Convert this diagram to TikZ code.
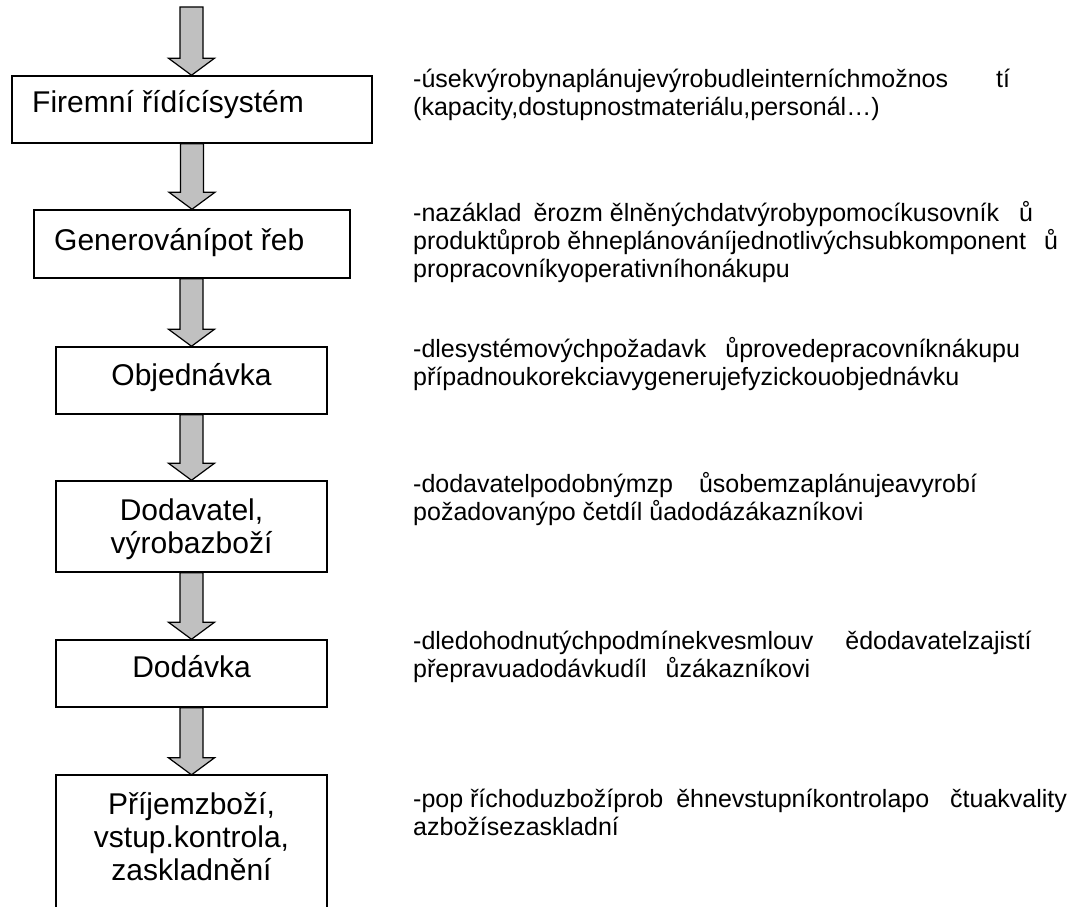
\documentclass[tikz,border=0pt]{standalone}
\usepackage{fontspec}
\setmainfont{Liberation Sans}
\usetikzlibrary{calc}
\definecolor{arrowgray}{RGB}{192,192,192}
\tikzset{
  stage/.style={draw=black, line width=1.5pt, inner sep=0pt},
  openstage/.style={draw=none, inner sep=0pt},
  stagelabel/.style={font=\fontsize{30}{33}\selectfont, align=center, inner sep=0pt, anchor=base},
  stagelabelleft/.style={font=\fontsize{30}{33}\selectfont, inner sep=0pt, anchor=base west},
  note/.style={font=\fontsize{25}{28}\selectfont, align=left, inner sep=0pt, anchor=base west},
  blockarrow/.style={draw=black, fill=arrowgray, line width=1.2pt, line join=miter},
}
% thick block arrow: shaft starts at the height of #1, tip lands on #2
\newcommand{\stagearrow}[2]{%
  \path[blockarrow] let \p1=(#1), \p2=(#2) in
    (\x2-11.5pt,\y1) -- (\x2+11.5pt,\y1) -- (\x2+11.5pt,\y2+17pt)
    -- (\x2+23pt,\y2+17pt) -- (\x2,\y2) -- (\x2-23pt,\y2+17pt)
    -- (\x2-11.5pt,\y2+17pt) -- cycle;}
\begin{document}
\begin{tikzpicture}[x=1pt,y=-1pt]
\useasboundingbox (0,0) rectangle (1084,907);

% process stages
\node[stage, minimum width=360pt, minimum height=67pt] (b1) at (192,109.5) {};
\node[stage, minimum width=316pt, minimum height=68pt] (b2) at (192,244) {};
\node[stage, minimum width=271pt, minimum height=67pt] (b3) at (191.5,380.5) {};
\node[stage, minimum width=271pt, minimum height=91pt] (b4) at (191.5,526.5) {};
\node[stage, minimum width=271pt, minimum height=67pt] (b5) at (191.5,673.5) {};
\node[openstage, minimum width=271pt, minimum height=132pt] (b6) at (191.5,841) {};
\draw[line width=1.5pt] (b6.south west) -- (b6.north west) -- (b6.north east) -- (b6.south east);

% stage captions (multi-line captions are anchored on their last line)
\node[stagelabelleft] (t1) at (32,112) {Firemní řídícísystém};
\node[stagelabelleft] (t2) at (54,250) {Generovánípot řeb};
\node[stagelabel] (t3) at (191.5,385) {Objednávka};
\node[stagelabel] (t4) at (191.5,553) {Dodavatel,\\výrobazboží};
\node[stagelabel] (t5) at (191.5,677) {Dodávka};
\node[stagelabel] (t6) at (191.5,880) {Příjemzboží,\\vstup.kontrola,\\zaskladnění};

% arrows between the stages
\coordinate (start) at (191.5,7);
\stagearrow{start}{b1.north -| start}
\stagearrow{b1.south}{b2.north}
\stagearrow{b2.south}{b3.north}
\stagearrow{b3.south}{b4.north}
\stagearrow{b4.south}{b5.north}
\stagearrow{b5.south}{b6.north}

% descriptions (anchored on their last line)
\node[note] (n1) at (413,115) {-úsekvýrobynaplánujevýrobudleinterníchmožnos\hspace{48pt}tí\\(kapacity,dostupnostmateriálu,personál…)};
\node[note] (n2) at (413,277) {-nazáklad\hspace{12pt}ěrozm ělněnýchdatvýrobypomocíkusovník\hspace{20pt}ů\\produktůprob ěhneplánováníjednotlivýchsubkomponent\hspace{18pt}ů\\propracovníkyoperativníhonákupu};
\node[note] (n3) at (413,385) {-dlesystémovýchpožadavk\hspace{19pt}ůprovedepracovníknákupu\\případnoukorekciavygenerujefyzickouobjednávku};
\node[note] (n4) at (413,520) {-dodavatelpodobnýmzp\hspace{26pt}ůsobemzaplánujeavyrobí\\požadovanýpo četdíl ůadodázákazníkovi};
\node[note] (n5) at (413,677) {-dledohodnutýchpodmínekvesmlouv\hspace{32pt}ědodavatelzajistí\\přepravuadodávkudíl\hspace{19pt}ůzákazníkovi};
\node[note] (n6) at (413,835) {-pop říchoduzbožíprob\hspace{13pt}ěhnevstupníkontrolapo\hspace{21pt}čtuakvality\\azbožísezaskladní};
\end{tikzpicture}
\end{document}
